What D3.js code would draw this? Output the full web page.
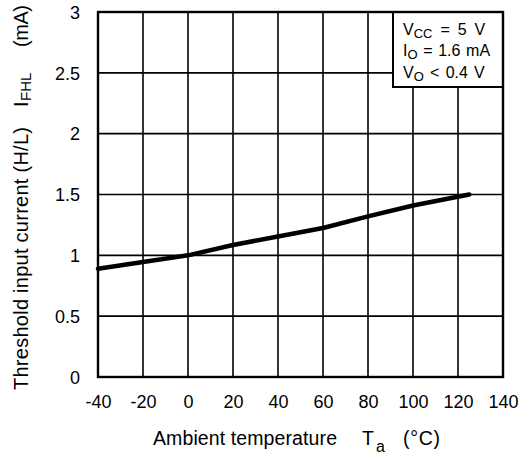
<!DOCTYPE html>
<html><head><meta charset="utf-8">
<script src="https://cdn.jsdelivr.net/npm/d3@7"></script>
<style>
html,body{margin:0;padding:0;background:#fff;}
svg{display:block;font-family:"Liberation Sans",Arial,Helvetica,sans-serif;}
</style></head>
<body>
<svg id="c" width="521" height="459"></svg>
<script>
// Data
const temps = [-40, -20, 0, 20, 40, 60, 80, 100, 125];
const ifhl  = [0.89, 0.945, 1.0, 1.085, 1.155, 1.225, 1.32, 1.41, 1.5];
const xTicks = [-40, -20, 0, 20, 40, 60, 80, 100, 120, 140];
const yTicks = [0, 0.5, 1, 1.5, 2, 2.5, 3];
const yTickLabels = ["0", "0.5", "1", "1.5", "2", "2.5", "3"];

const svg = d3.select("#c");
const L = 98, R = 503, T = 12, B = 377;
const x = d3.scaleLinear().domain([-40, 140]).range([L, R]);
const y = d3.scaleLinear().domain([0, 3]).range([B, T]);

// grid
const g = svg.append("g");
g.selectAll("line.vx").data(xTicks.slice(1, -1)).join("line")
  .attr("x1", d => x(d)).attr("x2", d => x(d)).attr("y1", T).attr("y2", B)
  .attr("stroke", "#000").attr("stroke-width", 1.6);
g.selectAll("line.hy").data(yTicks.slice(1, -1)).join("line")
  .attr("y1", d => y(d)).attr("y2", d => y(d)).attr("x1", L).attr("x2", R)
  .attr("stroke", "#000").attr("stroke-width", 1.6);

// axes labels via d3 axes (hide lines)
const xAxis = svg.append("g").attr("transform", `translate(0,${B})`)
  .call(d3.axisBottom(x).tickValues(xTicks).tickSize(0).tickPadding(0).tickFormat(d3.format("d")));
xAxis.select(".domain").remove();
xAxis.selectAll("text").attr("y", 31).attr("dy", 0)
  .attr("font-size", 18).attr("font-family", "Liberation Sans, Arial, sans-serif").attr("fill", "#000")
  .text(d => d < 0 ? "-" + Math.abs(d) : String(d));

const yAxis = svg.append("g").attr("transform", `translate(80,0)`)
  .call(d3.axisLeft(y).tickValues(yTicks).tickSize(0).tickPadding(0).tickFormat((d, i) => yTickLabels[i]));
yAxis.select(".domain").remove();
yAxis.selectAll("text").attr("x", 0).attr("dy", "0.35em")
  .attr("font-size", 18).attr("font-family", "Liberation Sans, Arial, sans-serif").attr("fill", "#000");

// curve
const line = d3.line().x((d, i) => x(temps[i])).y(d => y(d));
svg.append("path").datum(ifhl).attr("d", line)
  .attr("fill", "none").attr("stroke", "#000").attr("stroke-width", 4.5)
  .attr("stroke-linecap", "round").attr("stroke-linejoin", "round");

// legend box
const bx = 393, by = T, bw = R - 393, bh = 87 - T;
svg.append("rect").attr("x", bx).attr("y", by).attr("width", bw).attr("height", bh)
  .attr("fill", "#fff").attr("stroke", "#000").attr("stroke-width", 2);

// plot border
svg.append("rect").attr("x", L).attr("y", T).attr("width", R - L).attr("height", B - T)
  .attr("fill", "none").attr("stroke", "#000").attr("stroke-width", 2.4);

// legend text
function legendLine(yPos, main, sub, rest, ws) {
  const t = svg.append("text").attr("x", 403).attr("y", yPos).attr("font-size", 16)
    .attr("fill", "#000").attr("word-spacing", ws);
  t.append("tspan").text(main);
  t.append("tspan").attr("font-size", 13).attr("dy", 3).text(sub);
  t.append("tspan").attr("dy", -3).text(rest);
}
legendLine(35, "V", "CC", " = 5 V", 3.5);
legendLine(56, "I", "O", " = 1.6 mA", 1.2);
legendLine(78, "V", "O", " < 0.4 V", 1.8);

// x title
svg.append("text").attr("x", 153).attr("y", 445).attr("font-size", 19.5)
  .attr("textLength", 184).attr("lengthAdjust", "spacing").text("Ambient temperature");
svg.append("text").attr("x", 362).attr("y", 445).attr("font-size", 19.5).text("T");
svg.append("text").attr("x", 376).attr("y", 452).attr("font-size", 16).text("a");
svg.append("text").attr("x", 403).attr("y", 445).attr("font-size", 19.5)
  .attr("textLength", 37).attr("lengthAdjust", "spacing").text("(°C)");

// y title (rotated)
function rot(txt, yStart, xBase, fs, len) {
  const t = svg.append("text").attr("transform", `translate(${xBase},${yStart}) rotate(-90)`)
    .attr("font-size", fs).text(txt);
  if (len) t.attr("textLength", len).attr("lengthAdjust", "spacing");
  return t;
}
rot("Threshold input current (H/L)", 390, 28, 20, 263);
rot("I", 107, 28, 20);
rot("FHL", 101, 31, 15);
rot("(mA)", 47, 28, 20, 42);
</script>
</body></html>
